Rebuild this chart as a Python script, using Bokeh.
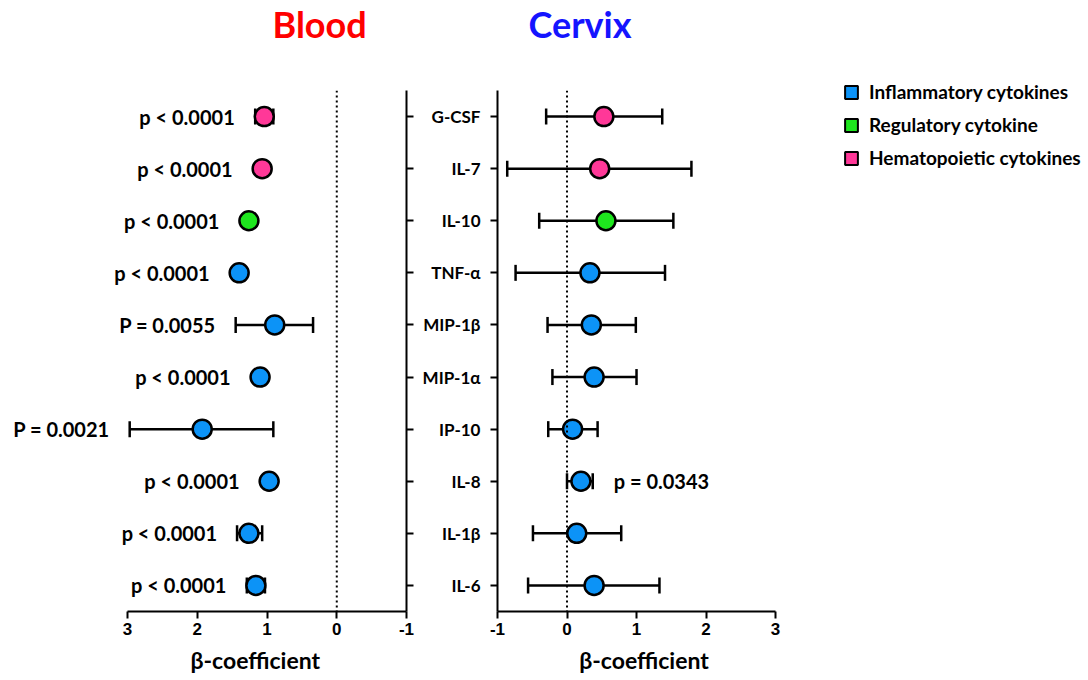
from bokeh.plotting import figure
from bokeh.models import (ColumnDataSource, Range1d, FactorRange, Whisker, TeeHead,
                          Span, FixedTicker, Legend, LegendItem, Title)
from bokeh.layouts import row, column
from bokeh.core.properties import value
from bokeh.embed import file_html
from bokeh.resources import INLINE

# ---------------- data ----------------
categories = ["G-CSF", "IL-7", "IL-10", "TNF-α", "MIP-1β", "MIP-1α", "IP-10", "IL-8", "IL-1β", "IL-6"]
cat_group = ["Hematopoietic cytokines", "Hematopoietic cytokines", "Regulatory cytokine",
             "Inflammatory cytokines", "Inflammatory cytokines", "Inflammatory cytokines",
             "Inflammatory cytokines", "Inflammatory cytokines", "Inflammatory cytokines",
             "Inflammatory cytokines"]

blood_beta = [1.04, 1.07, 1.26, 1.40, 0.89, 1.10, 1.93, 0.97, 1.26, 1.16]
blood_lo = [0.91, 1.01, 1.20, 1.34, 0.34, 1.03, 0.91, 0.91, 1.07, 1.03]
blood_hi = [1.17, 1.13, 1.31, 1.46, 1.45, 1.17, 2.97, 1.02, 1.43, 1.29]
blood_p = ["p < 0.0001", "p < 0.0001", "p < 0.0001", "p < 0.0001", "P = 0.0055",
           "p < 0.0001", "P = 0.0021", "p < 0.0001", "p < 0.0001", "p < 0.0001"]

cervix_beta = [0.53, 0.47, 0.56, 0.33, 0.35, 0.39, 0.08, 0.20, 0.14, 0.39]
cervix_lo = [-0.30, -0.86, -0.40, -0.74, -0.28, -0.21, -0.27, 0.00, -0.49, -0.56]
cervix_hi = [1.37, 1.79, 1.53, 1.41, 0.99, 1.00, 0.44, 0.37, 0.78, 1.33]
cervix_p = ["", "", "", "", "", "", "", "p = 0.0343", "", ""]

x_ticks = [-1, 0, 1, 2, 3]
x_tick_labels = {-1: "-1", 0: "0", 1: "1", 2: "2", 3: "3"}
x_label = "β-coefficient"
group_names = ["Inflammatory cytokines", "Regulatory cytokine", "Hematopoietic cytokines"]
group_colors = ["#0C93F7", "#1EE61E", "#FF3898"]

# ---------------- styling constants ----------------
FONT = "Lato"
NUM_FONT = "Liberation Sans"
PX_PER_UNIT = 69.67
MARKER = 19
R_DATA = (MARKER / 2) / PX_PER_UNIT
H = 678
TOP = 90
BOTTOM = 67

color_of = dict(zip(group_names, group_colors))
colors = [color_of[g] for g in cat_group]
y_factors = categories[::-1]


def style_x_axis(p, label):
    ax = p.xaxis[0]
    ax.bounds = (min(x_ticks), max(x_ticks))
    ax.ticker = FixedTicker(ticks=x_ticks)
    ax.major_label_overrides = x_tick_labels
    ax.axis_line_width = 2
    ax.major_tick_line_width = 2
    ax.major_tick_out = 7
    ax.major_tick_in = 0
    ax.minor_tick_line_color = None
    ax.major_label_text_font = NUM_FONT
    ax.major_label_text_font_style = "bold"
    ax.major_label_text_font_size = "17px"
    ax.major_label_text_color = "black"
    ax.major_label_standoff = 4
    ax.axis_label = label
    ax.axis_label_text_font = FONT
    ax.axis_label_text_font_style = "bold"
    ax.axis_label_text_font_size = "23px"
    ax.axis_label_text_color = "black"
    ax.axis_label_standoff = 8


def base_fig(width, x_range, y_loc, min_left, min_right, label):
    p = figure(width=width, height=H, x_range=x_range,
               y_range=FactorRange(factors=y_factors, range_padding=0),
               y_axis_location=y_loc, output_backend="svg", toolbar_location=None,
               min_border_left=min_left, min_border_right=min_right,
               min_border_top=TOP, min_border_bottom=BOTTOM)
    p.xgrid.visible = False
    p.ygrid.visible = False
    p.outline_line_color = None
    style_x_axis(p, label)
    ya = p.yaxis[0]
    ya.axis_line_width = 2
    ya.major_tick_line_width = 2
    ya.major_tick_out = 7
    ya.major_tick_in = 0
    p.add_layout(Span(location=0, dimension="height", line_color="black",
                      line_width=2, line_dash="2 3"))
    return p


def add_series(p, beta, lo, hi):
    src = ColumnDataSource(dict(cat=categories, beta=beta, lo=lo, hi=hi, color=colors))
    head = dict(size=16, line_width=2.5, line_color="black")
    p.add_layout(Whisker(source=src, base="cat", lower="lo", upper="hi", dimension="width",
                         line_width=2.5, line_color="black",
                         lower_head=TeeHead(**head), upper_head=TeeHead(**head)))
    p.scatter(x="beta", y="cat", source=src, size=MARKER, fill_color="color",
              line_color="black", line_width=2.5)


def add_title(p, text, color, offset):
    p.add_layout(Title(text=text, text_font=FONT, text_font_size="36px",
                       text_font_style="bold", text_color=color, align="left",
                       vertical_align="top", offset=offset, standoff=0,
                       padding=dict(left=0, right=0, top=0, bottom=43)), "above")


# ---------------- Blood panel ----------------
# frame reaches the left edge so the p-value texts fit; axis drawn only over its bounds
blood_start = max(x_ticks) + 127 / PX_PER_UNIT
# en-spaces shift the centred axis title over the bounded axis
p1 = base_fig(416, Range1d(blood_start, min(x_ticks)), "right", 0, 10,
              "\u2002" * 9 + x_label)
p1.yaxis[0].major_label_text_color = None
p1.yaxis[0].major_label_text_font_size = "0px"
p1.yaxis[0].major_label_standoff = 0
add_series(p1, blood_beta, blood_lo, blood_hi)
blood_anchor = [max(h, b + R_DATA) for b, h in zip(blood_beta, blood_hi)]
p1.text(x=blood_anchor, y=categories, text=blood_p, text_font=value(FONT),
        text_font_style="bold", text_font_size=value("20px"), text_align="right",
        text_baseline="middle", x_offset=-20, text_color="black")
add_title(p1, "Blood", "#FF0000", 272)

# ---------------- Cervix panel ----------------
cervix_end = max(x_ticks) + (790 - 775) / PX_PER_UNIT
p2 = base_fig(374, Range1d(min(x_ticks), cervix_end), "left", 81, 0, x_label)
ya2 = p2.yaxis[0]
ya2.major_label_text_font = FONT
ya2.major_label_text_font_style = "bold"
ya2.major_label_text_font_size = "17px"
ya2.major_label_text_color = "black"
ya2.major_label_standoff = 10
add_series(p2, cervix_beta, cervix_lo, cervix_hi)
cv = [(b, h, c, t) for b, h, c, t in zip(cervix_beta, cervix_hi, categories, cervix_p) if t]
p2.text(x=[max(h, b + R_DATA) for b, h, c, t in cv], y=[c for b, h, c, t in cv],
        text=[t for b, h, c, t in cv], text_font=value(FONT),
        text_font_style="bold", text_font_size=value("20px"), text_align="left",
        text_baseline="middle", x_offset=21, text_color="black")
add_title(p2, "Cervix", "#1414FF", 528 - 497)

# ---------------- legend panel ----------------
pl = figure(width=298, height=H, x_range=Range1d(0, 1), y_range=Range1d(0, 1),
            x_axis_location=None, y_axis_location=None, output_backend="svg",
            toolbar_location=None, min_border=0, min_border_left=53)
pl.xgrid.visible = False
pl.ygrid.visible = False
pl.outline_line_color = None
items = []
for name, col in zip(group_names, group_colors):
    r = pl.rect(x=[float("nan")], y=[float("nan")], width=0.1, height=0.1,
                fill_color=col, line_color="black", line_width=2)
    items.append(LegendItem(label=name, renderers=[r]))
ITEM_H, SP = 23, 10
legend_h = 3 * ITEM_H + 2 * SP
legend = Legend(items=items, location=(0, H - 80 - legend_h), padding=0, margin=0,
                border_line_color=None, background_fill_alpha=0,
                glyph_width=16, glyph_height=16, label_height=20, spacing=SP,
                label_standoff=10, label_text_font=FONT, label_text_font_style="bold",
                label_text_font_size="19px", label_text_color="black")
pl.add_layout(legend)

layout = row(p1, p2, column(pl))
open("out.html", "w").write(file_html(layout, INLINE))
